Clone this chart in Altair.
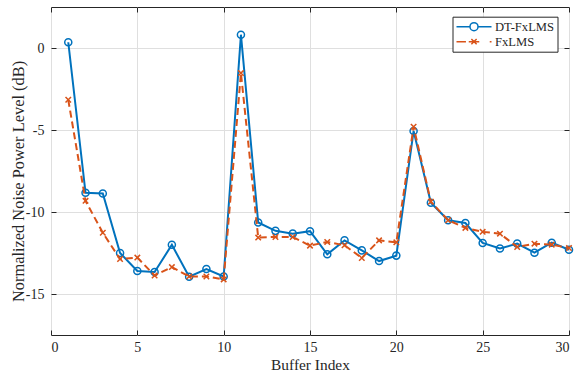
import altair as alt
import pandas as pd

# Buffer indices and per-buffer normalized noise power (dB)
buffer_index = list(range(1, 31))
dt_fxlms = [0.35, -8.83, -8.87, -12.5, -13.6, -13.66, -12.0, -13.95, -13.48, -13.93,
            0.81, -10.64, -11.15, -11.32, -11.17, -12.58, -11.73, -12.34, -12.99, -12.66,
            -5.06, -9.44, -10.5, -10.67, -11.89, -12.23, -11.93, -12.48, -11.87, -12.3]
fxlms = [-3.16, -9.32, -11.27, -12.87, -12.78, -13.87, -13.36, -13.93, -13.93, -14.11,
         -1.53, -11.56, -11.52, -11.52, -12.05, -11.83, -12.03, -12.8, -11.73, -11.85,
         -4.8, -9.38, -10.5, -10.97, -11.21, -11.32, -12.13, -11.93, -11.99, -12.2]
series_names = ["DT-FxLMS", "FxLMS"]
series_colors = ["#0072BD", "#D95319"]
x_ticks = [0, 5, 10, 15, 20, 25, 30]
y_ticks = [-15, -10, -5, 0]

W, H = 518, 328
FONT = "Liberation Serif"
INK = "#262626"

df = pd.DataFrame({
    "idx": buffer_index * 2,
    "val": dt_fxlms + fxlms,
    "series": [series_names[0]] * len(dt_fxlms) + [series_names[1]] * len(fxlms),
})

xs = alt.Scale(domain=[0, 30], nice=False, zero=False)
ys = alt.Scale(domain=[-17.5, 2.5], nice=False, zero=False)
lab = "datum.value + ''"
font_kw = dict(labelFont=FONT, titleFont=FONT, labelColor=INK, titleColor=INK,
               labelFontSize=14, titleFontWeight="normal")

# main axes: labels, titles, grid
ax_x_main = alt.Axis(orient="bottom", values=x_ticks, ticks=False, tickSize=0, domain=False,
                     grid=True, labelExpr=lab, title="Buffer Index", labelPadding=5,
                     titlePadding=3, titleFontSize=15.4, **font_kw)
ax_y_main = alt.Axis(orient="left", values=y_ticks, ticks=False, tickSize=0, domain=False,
                     grid=True, labelExpr=lab, title="Normalized Noise Power Level (dB)",
                     labelPadding=7, titleFontSize=16.4, titleX=-28, titleY=174,
                     titleAngle=270, titleAlign="center", titleBaseline="alphabetic",
                     **font_kw)
# inward ticks on bottom / left edges
ax_x_in_b = alt.Axis(orient="top", offset=-H, values=x_ticks, labels=False, ticks=True,
                     tickSize=5, domain=False, grid=False, title=None)
ax_y_in_l = alt.Axis(orient="right", offset=-W, values=y_ticks, labels=False, ticks=True,
                     tickSize=5, domain=False, grid=False, title=None)
# inward ticks on top / right edges
ax_x_in_t = alt.Axis(orient="bottom", offset=-H, values=x_ticks, labels=False, ticks=True,
                     tickSize=5, domain=False, grid=False, title=None)
ax_y_in_r = alt.Axis(orient="left", offset=-W, values=y_ticks, labels=False, ticks=True,
                     tickSize=5, domain=False, grid=False, title=None)

base = alt.Chart(df)
dt = base.transform_filter(alt.datum.series == series_names[0])
fx = base.transform_filter(alt.datum.series == series_names[1])

dt_line = dt.mark_line(color=series_colors[0], strokeWidth=2).encode(
    x=alt.X("idx:Q", scale=xs, axis=ax_x_main),
    y=alt.Y("val:Q", scale=ys, axis=ax_y_main),
)
dt_pts = dt.mark_point(shape="circle", filled=False, size=50, strokeWidth=1.5,
                       color=series_colors[0], opacity=1).encode(
    x=alt.X("idx:Q", scale=xs, axis=ax_x_in_b),
    y=alt.Y("val:Q", scale=ys, axis=ax_y_in_l),
)
fx_line = fx.mark_line(color=series_colors[1], strokeWidth=2, strokeDash=[7, 4]).encode(
    x=alt.X("idx:Q", scale=xs, axis=ax_x_in_t),
    y=alt.Y("val:Q", scale=ys, axis=ax_y_in_r),
)
x_marker = "M-1,-1L1,1M-1,1L1,-1"
fx_pts = fx.mark_point(shape=x_marker, filled=False, size=30, strokeWidth=1.5,
                       color=series_colors[1], opacity=1).encode(
    x=alt.X("idx:Q", scale=xs, axis=None),
    y=alt.Y("val:Q", scale=ys, axis=None),
)

# legend glyphs: line segment with the series marker
leg_dt = ("M-1,0L-0.23,0M0.23,0L1,0"
          "M0.23,0A0.23,0.23 0 1,1 -0.23,0A0.23,0.23 0 1,1 0.23,0")
leg_fx = ("M-1,0L-0.46,0M-0.3,0L0.3,0M0.9,0L1,0"
          "M-0.15,-0.15L0.15,0.15M-0.15,0.15L0.15,-0.15")

legend_layer = base.mark_point(filled=False, opacity=0).encode(
    x=alt.X("idx:Q", scale=xs, axis=None),
    y=alt.Y("val:Q", scale=ys, axis=None),
    color=alt.Color("series:N", scale=alt.Scale(domain=series_names, range=series_colors),
                    legend=alt.Legend(orient="none", legendX=401.5, legendY=9.7, title=None,
                                      symbolSize=1225, clipHeight=14, rowPadding=1,
                                      padding=3, labelOffset=2.5, symbolStrokeWidth=1.5,
                                      symbolOpacity=1, fillColor="white", strokeColor=INK,
                                      labelFont=FONT, labelFontSize=12.6, labelColor=INK)),
    shape=alt.Shape("series:N", scale=alt.Scale(domain=series_names, range=[leg_dt, leg_fx])),
)

chart = alt.layer(dt_line, dt_pts, fx_line, fx_pts, legend_layer).resolve_axis(
    x="independent", y="independent"
).properties(
    width=W, height=H,
    autosize=alt.AutoSizeParams(type="none"),
    padding={"left": 51, "top": 7, "right": 10, "bottom": 43},
    background="white",
).configure_view(
    stroke=INK, strokeWidth=1
).configure_axis(
    labelFont=FONT, titleFont=FONT, labelColor=INK, titleColor=INK, tickColor=INK,
    gridColor="#DFDFDF", gridWidth=1, tickWidth=1,
)

chart.save("out.html", embed_options={"renderer": "svg", "actions": False})
